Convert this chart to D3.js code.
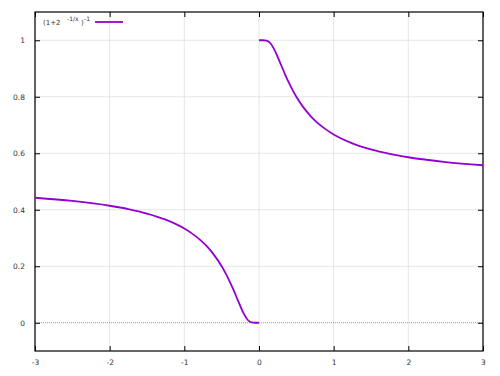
<!DOCTYPE html>
<html>
<head>
<meta charset="utf-8">
<script src="https://cdn.jsdelivr.net/npm/d3@7"></script>
<style>
  body { margin: 0; background: #fff; }
  text { font-family: "DejaVu Sans", sans-serif; font-size: 8px; fill: #333; }
</style>
</head>
<body>
<div id="chart"></div>
<script>
// valores (1+2^(-1/x))^-1
const negX = [-3, -2.5, -2, -1.75, -1.5, -1.25, -1, -0.9, -0.8, -0.7, -0.6, -0.5, -0.45, -0.4, -0.35, -0.3, -0.25, -0.2, -0.15, -0.1, -0.05, -0.001];
const negY = [0.4425, 0.4311, 0.4142, 0.4023, 0.3865, 0.3648, 0.3333, 0.3164, 0.2960, 0.2709, 0.2395, 0.2, 0.1765, 0.1502, 0.1213, 0.0903, 0.0588, 0.0303, 0.0098, 0.001, 0, 0];
const posX = [0.001, 0.05, 0.1, 0.15, 0.2, 0.25, 0.3, 0.35, 0.4, 0.45, 0.5, 0.6, 0.7, 0.8, 0.9, 1, 1.25, 1.5, 1.75, 2, 2.5, 3];
const posY = [1, 1, 0.999, 0.9902, 0.9697, 0.9412, 0.9097, 0.8787, 0.8498, 0.8235, 0.8, 0.7605, 0.7291, 0.7040, 0.6836, 0.6667, 0.6352, 0.6135, 0.5977, 0.5858, 0.5689, 0.5575];
const xTicks = [-3, -2, -1, 0, 1, 2, 3];
const yTicks = [0, 0.2, 0.4, 0.6, 0.8, 1];

const width = 500, height = 376;
const margin = { top: 12, right: 17, bottom: 25, left: 35 };

const x = d3.scaleLinear().domain([-3, 3]).range([margin.left, width - margin.right]);
const y = d3.scaleLinear().domain([-0.1, 1.1]).range([height - margin.bottom, margin.top]);

const svg = d3.select("#chart").append("svg")
  .attr("width", width)
  .attr("height", height);

// rejilla
svg.append("g")
  .selectAll("line")
  .data(xTicks)
  .join("line")
  .attr("x1", d => x(d)).attr("x2", d => x(d))
  .attr("y1", y(-0.1)).attr("y2", y(1.1))
  .attr("stroke", "#e0e0e0").attr("stroke-width", 0.8);

svg.append("g")
  .selectAll("line")
  .data(yTicks.filter(d => d !== 0))
  .join("line")
  .attr("x1", x(-3)).attr("x2", x(3))
  .attr("y1", d => y(d)).attr("y2", d => y(d))
  .attr("stroke", "#e0e0e0").attr("stroke-width", 0.8);

// eje cero punteado
svg.append("line")
  .attr("x1", x(-3)).attr("x2", x(3))
  .attr("y1", y(0)).attr("y2", y(0))
  .attr("stroke", "#999").attr("stroke-width", 1)
  .attr("stroke-dasharray", "1,1");

// ejes con ticks hacia dentro
svg.append("g")
  .attr("transform", `translate(0,${y(-0.1)})`)
  .call(d3.axisBottom(x).tickValues(xTicks).tickSize(-5).tickPadding(9).tickSizeOuter(0).tickFormat(d => String(d)))
  .call(g => g.select(".domain").remove());

svg.append("g")
  .attr("transform", `translate(0,${y(1.1)})`)
  .call(d3.axisTop(x).tickValues(xTicks).tickSize(-5).tickSizeOuter(0).tickFormat(""))
  .call(g => g.select(".domain").remove());

svg.append("g")
  .attr("transform", `translate(${x(-3)},0)`)
  .call(d3.axisLeft(y).tickValues(yTicks).tickSize(-5).tickPadding(10).tickSizeOuter(0).tickFormat(d => String(d)))
  .call(g => g.select(".domain").remove());

svg.append("g")
  .attr("transform", `translate(${x(3)},0)`)
  .call(d3.axisRight(y).tickValues(yTicks).tickSize(-5).tickSizeOuter(0).tickFormat(""))
  .call(g => g.select(".domain").remove());

svg.selectAll(".tick line").attr("stroke", "#000");
svg.selectAll(".tick text").attr("fill", "#444").style("font-size", "7.5px");

// marco
svg.append("rect")
  .attr("x", x(-3)).attr("y", y(1.1))
  .attr("width", x(3) - x(-3)).attr("height", y(-0.1) - y(1.1))
  .attr("fill", "none").attr("stroke", "#000").attr("stroke-width", 1.2);

// curva
const line = d3.line()
  .x(d => x(d[0]))
  .y(d => y(d[1]))
  .curve(d3.curveMonotoneX);

[d3.zip(negX, negY), d3.zip(posX, posY)].forEach(pts => {
  svg.append("path")
    .datum(pts)
    .attr("fill", "none")
    .attr("stroke", "#9400d3")
    .attr("stroke-width", 1.8)
    .attr("d", line);
});

// leyenda
const legend = svg.append("g");
const lt = legend.append("text").attr("x", 43).attr("y", 25).style("font-size", "7px").attr("fill", "#444");
lt.append("tspan").text("(1+2");
lt.append("tspan").attr("x", 67).attr("y", 21).style("font-size", "6px").text("-1/x");
lt.append("tspan").attr("x", 81).attr("y", 25).text(")");
lt.append("tspan").attr("x", 84).attr("y", 21).style("font-size", "6px").text("-1");

legend.append("line")
  .attr("x1", 95).attr("x2", 123)
  .attr("y1", 22).attr("y2", 22)
  .attr("stroke", "#9400d3").attr("stroke-width", 1.8);
</script>
</body>
</html>
